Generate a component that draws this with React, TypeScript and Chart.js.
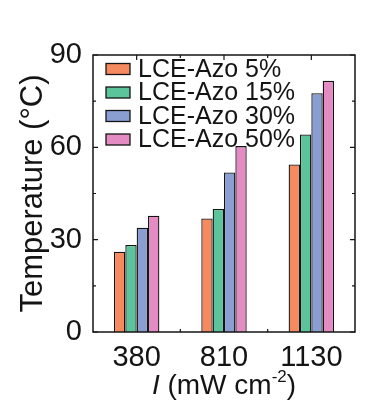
import React, { useEffect, useRef } from 'react';
import { Chart, registerables } from 'chart.js';

Chart.register(...registerables);

const categories = ['380', '810', '1130'];
const seriesLabels = ['LCE-Azo 5%', 'LCE-Azo 15%', 'LCE-Azo 30%', 'LCE-Azo 50%'];
const azo5 = [26.1, 36.9, 54.4];
const azo15 = [28.3, 40.0, 64.2];
const azo30 = [33.9, 51.8, 77.6];
const azo50 = [37.8, 60.4, 81.6];
const seriesColors = ['#F58A5E', '#5CC49A', '#8B9ED1', '#E48BC3'];
const yMajorTicks = [0, 30, 60, 90];
const yMinorTicks = [15, 45, 75];
const yTitle = 'Temperature (°C)';

const FONT = '"Liberation Sans", Arial, sans-serif';
const INK = '#141414';

const framePlugin = {
  id: 'frameAndTicks',
  afterDatasetsDraw(chart: any) {
    const { ctx, chartArea } = chart;
    const { left, right, top, bottom } = chartArea;
    const y = chart.scales.y;
    const x = chart.scales.x;
    ctx.save();
    ctx.strokeStyle = INK;
    ctx.lineWidth = 1.5;
    ctx.strokeRect(left, top, right - left, bottom - top);
    ctx.lineWidth = 1.2;
    ctx.beginPath();
    yMajorTicks.forEach((v) => {
      const py = y.getPixelForValue(v);
      ctx.moveTo(left, py); ctx.lineTo(left + 5, py);
      ctx.moveTo(right, py); ctx.lineTo(right - 5, py);
    });
    yMinorTicks.forEach((v) => {
      const py = y.getPixelForValue(v);
      ctx.moveTo(left, py); ctx.lineTo(left + 3, py);
      ctx.moveTo(right, py); ctx.lineTo(right - 3, py);
    });
    categories.forEach((_, i) => {
      const px = x.getPixelForValue(i);
      ctx.moveTo(px, top); ctx.lineTo(px, top + 5);
      if (i > 0) {
        const pb = (x.getPixelForValue(i - 1) + px) / 2;
        ctx.moveTo(pb, top); ctx.lineTo(pb, top + 3);
        ctx.moveTo(pb, bottom); ctx.lineTo(pb, bottom - 3);
      }
    });
    ctx.stroke();
    ctx.restore();
  },
  afterDraw(chart: any) {
    const { ctx, chartArea } = chart;
    ctx.save();
    // legend
    const bx = chartArea.left + 13;
    let cy = chartArea.top + 14;
    ctx.textBaseline = 'middle';
    ctx.textAlign = 'left';
    ctx.font = `25px ${FONT}`;
    chart.data.datasets.forEach((ds: any) => {
      ctx.fillStyle = ds.backgroundColor;
      ctx.fillRect(bx, cy - 5.5, 24, 11);
      ctx.strokeStyle = INK;
      ctx.lineWidth = 1.3;
      ctx.strokeRect(bx, cy - 5.5, 24, 11);
      ctx.fillStyle = INK;
      ctx.fillText(ds.label, bx + 32, cy + 1);
      cy += 23.5;
    });
    // x title: I (mW cm-2)
    const parts = [
      { t: 'I', f: `italic 28px ${FONT}`, dy: 0 },
      { t: ' (mW cm', f: `28px ${FONT}`, dy: 0 },
      { t: '-2', f: `17px ${FONT}`, dy: -12 },
      { t: ')', f: `28px ${FONT}`, dy: 0 },
    ];
    let total = 0;
    parts.forEach((p) => { ctx.font = p.f; total += ctx.measureText(p.t).width; });
    let px = (chartArea.left + chartArea.right) / 2 - total / 2;
    const base = 394;
    ctx.textBaseline = 'alphabetic';
    ctx.fillStyle = INK;
    parts.forEach((p) => {
      ctx.font = p.f;
      ctx.fillText(p.t, px, base + p.dy);
      px += ctx.measureText(p.t).width;
    });
    ctx.restore();
  },
};

export default function App() {
  const ref = useRef<HTMLCanvasElement>(null);
  useEffect(() => {
    if (!ref.current) return;
    const series = [azo5, azo15, azo30, azo50];
    const chart = new Chart(ref.current, {
      type: 'bar',
      data: {
        labels: categories,
        datasets: series.map((d, i) => ({
          label: seriesLabels[i],
          data: d,
          backgroundColor: seriesColors[i],
          borderColor: INK,
          borderWidth: 1.3,
          barPercentage: 1,
          categoryPercentage: 0.52,
        })),
      },
      options: {
        responsive: false,
        animation: false,
        layout: { padding: { top: 55, right: 13, left: 0, bottom: 0 } },
        plugins: { legend: { display: false }, tooltip: { enabled: false } },
        scales: {
          x: {
            grid: { display: false },
            border: { display: false },
            ticks: { color: INK, font: { family: FONT, size: 29 }, padding: 1, maxRotation: 0 },
            afterFit: (s: any) => { s.height = 75; },
          },
          y: {
            min: 0,
            max: 90,
            grid: { display: false },
            border: { display: false },
            ticks: { stepSize: 30, color: INK, font: { family: FONT, size: 29 }, padding: 3 },
            title: { display: true, text: yTitle, color: INK, font: { family: FONT, size: 31 }, padding: { top: 15, bottom: 0 } },
            afterFit: (s: any) => { s.width = 93; },
          },
        },
      },
      plugins: [framePlugin],
    });
    return () => chart.destroy();
  }, []);
  return (
    <canvas ref={ref} width={368} height={407} style={{ position: 'absolute', left: 0, top: 0, width: 368, height: 407, display: 'block' }} />
  );
}
